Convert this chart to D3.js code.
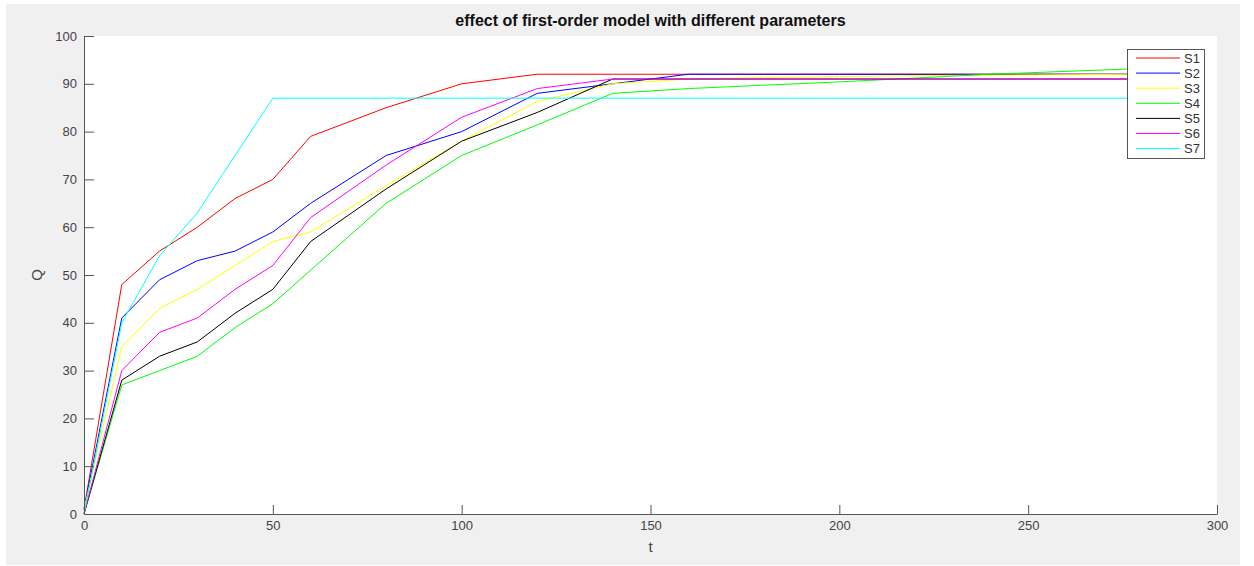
<!DOCTYPE html>
<html>
<head>
<meta charset="utf-8">
<script src="https://cdn.jsdelivr.net/npm/d3@7"></script>
<style>
  body { margin: 0; background: #fff; font-family: "Liberation Sans", Arial, sans-serif; }
  .axis path, .axis line { stroke: #555; }
  .axis text { fill: #444; font-size: 13px; font-family: "Liberation Sans", Arial, sans-serif; }
</style>
</head>
<body>
<script>
var width = 1254,
    height = 566,
    margin = { top: 36, right: 37, bottom: 52, left: 84 };

// time samples (the curves stop behind the legend)
var tValues = [0, 10, 20, 30, 40, 50, 60, 80, 100, 120, 140, 160, 180, 200, 220, 240, 260, 280];

// one array per curve
var s1 = [1, 48, 55, 60, 66, 70, 79, 85, 90, 92, 92, 92, 92, 92, 92, 92, 92, 92];
var s2 = [1, 41, 49, 53, 55, 59, 65, 75, 80, 88, 90, 92, 92, 92, 92, 92, 92, 92];
var s3 = [1, 35, 43, 47, 52, 57, 59, 68.7, 78, 86.3, 90, 91, 91.3, 91.5, 91.7, 91.8, 91.9, 92];
var s4 = [0, 27, 30, 33, 39, 44, 51, 65, 75, 81.4, 88, 89, 89.7, 90.4, 91.2, 92, 92.6, 93.2];
var s5 = [0, 28, 33, 36, 42, 47, 57, 68, 78, 84, 91, 91, 91, 91, 91, 91, 91, 91];
var s6 = [0, 30, 38, 41, 47, 52, 62, 73, 83, 89, 91, 91, 91, 91, 91, 91, 91, 91];
var s7 = [0, 40, 54, 63, 75, 87, 87, 87, 87, 87, 87, 87, 87, 87, 87, 87, 87, 87];

var seriesNames = ['S1', 'S2', 'S3', 'S4', 'S5', 'S6', 'S7'];
var seriesValues = [s1, s2, s3, s4, s5, s6, s7];
var seriesColors = ['#ff0000', '#0000ff', '#ffff00', '#00ff00', '#000000', '#ff00ff', '#00ffff'];

var xTicks = [0, 50, 100, 150, 200, 250, 300];
var yTicks = [0, 10, 20, 30, 40, 50, 60, 70, 80, 90, 100];

var svg = d3.select('body').append('svg')
    .attr('width', width)
    .attr('height', height);

// grey figure background
svg.append('rect')
    .attr('x', 6).attr('y', 4)
    .attr('width', 1234).attr('height', 561)
    .attr('fill', '#f0f0f0');

var w = width - margin.left - margin.right,
    h = height - margin.top - margin.bottom;

var xScale = d3.scaleLinear().domain([0, 300]).range([0, w]),
    yScale = d3.scaleLinear().domain([0, 100]).range([h, 0]);

var g = svg.append('g')
    .attr('transform', 'translate(' + margin.left + ',' + margin.top + ')');

// white axes area
g.append('rect')
    .attr('width', w).attr('height', h)
    .attr('fill', '#fff');

var line = d3.line()
    .x(function(d) { return xScale(d.t); })
    .y(function(d) { return yScale(d.v); });

seriesValues.forEach(function(vals, i) {
  var pts = tValues.map(function(t, j) { return { t: t, v: vals[j] }; });
  g.append('path')
    .datum(pts)
    .attr('fill', 'none')
    .attr('stroke', seriesColors[i])
    .attr('stroke-width', 1)
    .attr('d', line);
});

// axes, ticks pointing inward like matlab
g.append('g')
    .attr('class', 'axis axis--x')
    .attr('transform', 'translate(0,' + h + ')')
    .call(d3.axisBottom(xScale).tickValues(xTicks).tickSizeInner(-9).tickSizeOuter(0).tickPadding(7));

g.append('g')
    .attr('class', 'axis axis--y')
    .call(d3.axisLeft(yScale).tickValues(yTicks).tickSizeInner(-10).tickSizeOuter(0).tickPadding(7));

// title and labels
svg.append('text')
    .attr('x', margin.left + w / 2)
    .attr('y', 26)
    .attr('text-anchor', 'middle')
    .attr('font-size', '16px')
    .attr('font-weight', 'bold')
    .attr('fill', '#111')
    .text('effect of first-order model with different parameters');

svg.append('text')
    .attr('x', margin.left + w / 2)
    .attr('y', 552)
    .attr('text-anchor', 'middle')
    .attr('font-size', '15px')
    .attr('fill', '#444')
    .text('t');

svg.append('text')
    .attr('transform', 'translate(42,' + (margin.top + h / 2) + ') rotate(-90)')
    .attr('text-anchor', 'middle')
    .attr('font-size', '15px')
    .attr('fill', '#444')
    .text('Q');

// legend box
var legend = svg.append('g').attr('transform', 'translate(1127,49)');
legend.append('rect')
    .attr('x', 0.5).attr('y', 0.5)
    .attr('width', 77).attr('height', 109)
    .attr('fill', '#fff')
    .attr('stroke', '#555');

seriesNames.forEach(function(name, i) {
  var yy = 9 + i * 15.1;
  legend.append('line')
    .attr('x1', 9).attr('x2', 53)
    .attr('y1', yy).attr('y2', yy)
    .attr('stroke', seriesColors[i]);
  legend.append('text')
    .attr('x', 57).attr('y', yy + 4.5)
    .attr('font-size', '13px')
    .attr('fill', '#333')
    .text(name);
});
</script>
</body>
</html>
